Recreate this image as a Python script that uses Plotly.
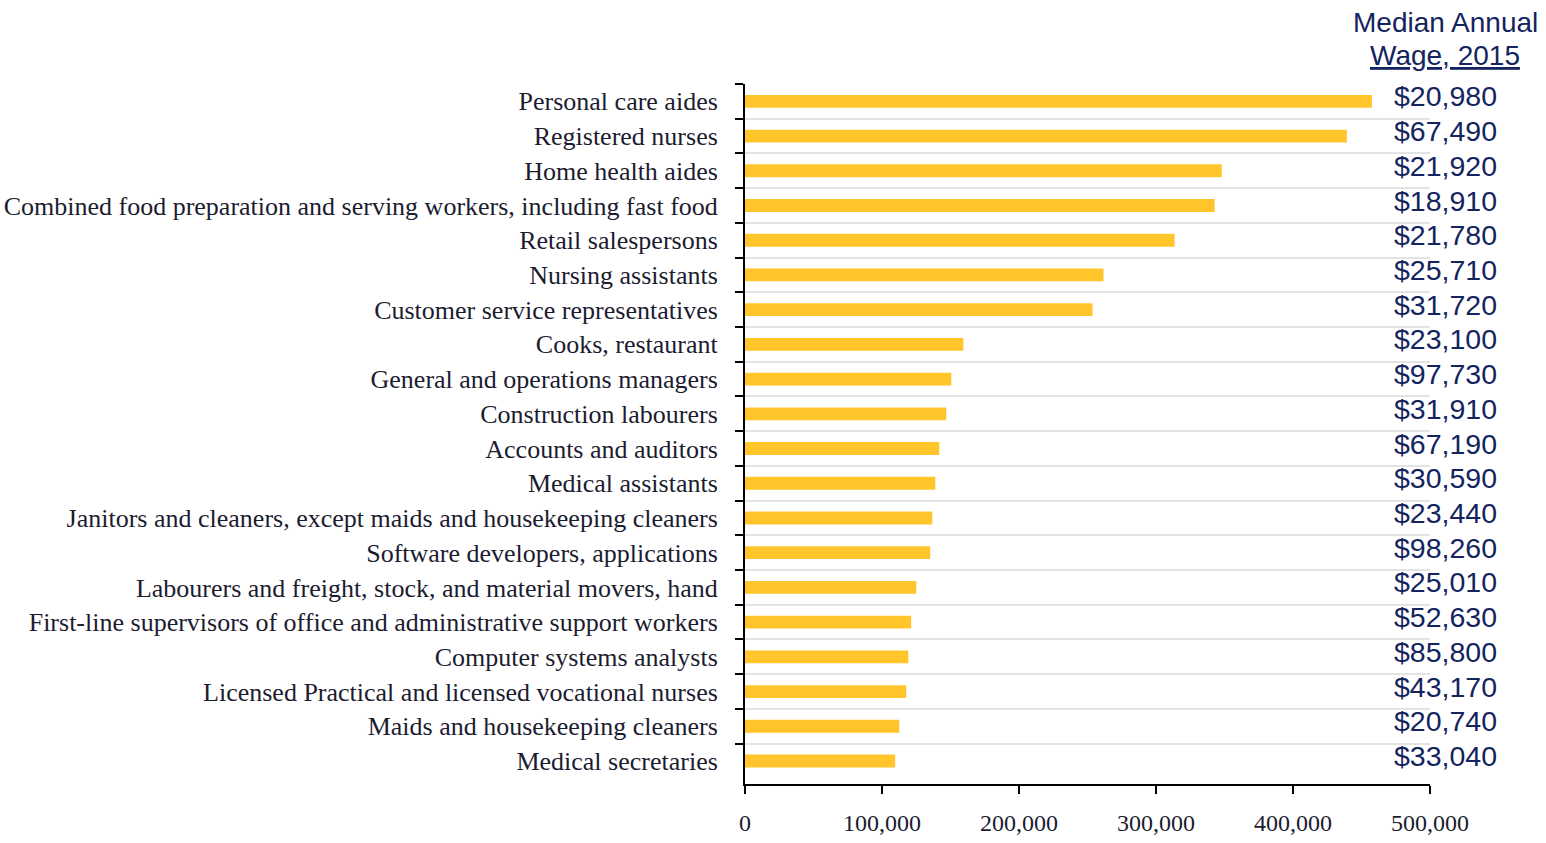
import plotly.graph_objects as go

occupations = [
    "Personal care aides",
    "Registered nurses",
    "Home health aides",
    "Combined food preparation and serving workers, including fast food",
    "Retail salespersons",
    "Nursing assistants",
    "Customer service representatives",
    "Cooks, restaurant",
    "General and operations managers",
    "Construction labourers",
    "Accounts and auditors",
    "Medical assistants",
    "Janitors and cleaners, except maids and housekeeping cleaners",
    "Software developers, applications",
    "Labourers and freight, stock, and material movers, hand",
    "First-line supervisors of office and administrative support workers",
    "Computer systems analysts",
    "Licensed Practical and licensed vocational nurses",
    "Maids and housekeeping cleaners",
    "Medical secretaries",
]
job_openings = [
    457600, 439300, 348000, 342800, 313600, 261700, 253700, 159400, 150600, 146900,
    141800, 138900, 136700, 135200, 125000, 121300, 119200, 117700, 112600, 109600,
]
median_wages = [
    "$20,980", "$67,490", "$21,920", "$18,910", "$21,780", "$25,710", "$31,720",
    "$23,100", "$97,730", "$31,910", "$67,190", "$30,590", "$23,440", "$98,260",
    "$25,010", "$52,630", "$85,800", "$43,170", "$20,740", "$33,040",
]
x_ticks = [0, 100000, 200000, 300000, 400000, 500000]
x_tick_text = ["0", "100,000", "200,000", "300,000", "400,000", "500,000"]

navy = "#13245e"
label_color = "#1c1c30"

fig = go.Figure(
    go.Bar(
        x=job_openings,
        y=occupations,
        orientation="h",
        marker=dict(color="#FFC52A", line=dict(width=0)),
        width=0.37,
        hoverinfo="x+y",
    )
)

for occ, wage in zip(occupations, median_wages):
    fig.add_annotation(
        x=0.944, xref="paper", y=occ, yref="y",
        text=wage, showarrow=False, xanchor="left", yanchor="middle", yshift=5,
        font=dict(family="Liberation Sans, Arial, sans-serif", size=28.5, color=navy),
    )

fig.add_annotation(
    x=1.022, xref="paper", y=1.0, yref="paper", yshift=62,
    text="Median Annual", showarrow=False, xanchor="center", yanchor="middle",
    font=dict(family="Liberation Sans, Arial, sans-serif", size=28, color=navy),
)
fig.add_annotation(
    x=1.022, xref="paper", y=1.0, yref="paper", yshift=29,
    text="<u>Wage, 2015</u>", showarrow=False, xanchor="center", yanchor="middle",
    font=dict(family="Liberation Sans, Arial, sans-serif", size=28, color=navy),
)

fig.update_layout(
    width=1546, height=843,
    margin=dict(l=745, r=116, t=84, b=59),
    paper_bgcolor="white", plot_bgcolor="white",
    showlegend=False,
)
fig.update_xaxes(
    range=[0, 500000], tickvals=x_ticks, ticktext=x_tick_text,
    showgrid=False, zeroline=False, automargin=False,
    showline=True, linecolor="black", linewidth=2,
    ticks="outside", ticklen=8, tickwidth=2, tickcolor="black",
    tickfont=dict(family="Liberation Serif, Times New Roman, serif", size=24, color=label_color),
    ticklabelstandoff=8,
)
fig.update_yaxes(
    autorange="reversed", tickson="boundaries", automargin=False,
    showgrid=True, gridcolor="#e3e3e3", gridwidth=2,
    showline=True, linecolor="black", linewidth=2,
    ticks="outside", ticklen=8, tickwidth=2, tickcolor="black",
    tickfont=dict(family="Liberation Serif, Times New Roman, serif", size=26, color=label_color),
    ticklabelstandoff=20,
)

fig.write_html("out.html")
